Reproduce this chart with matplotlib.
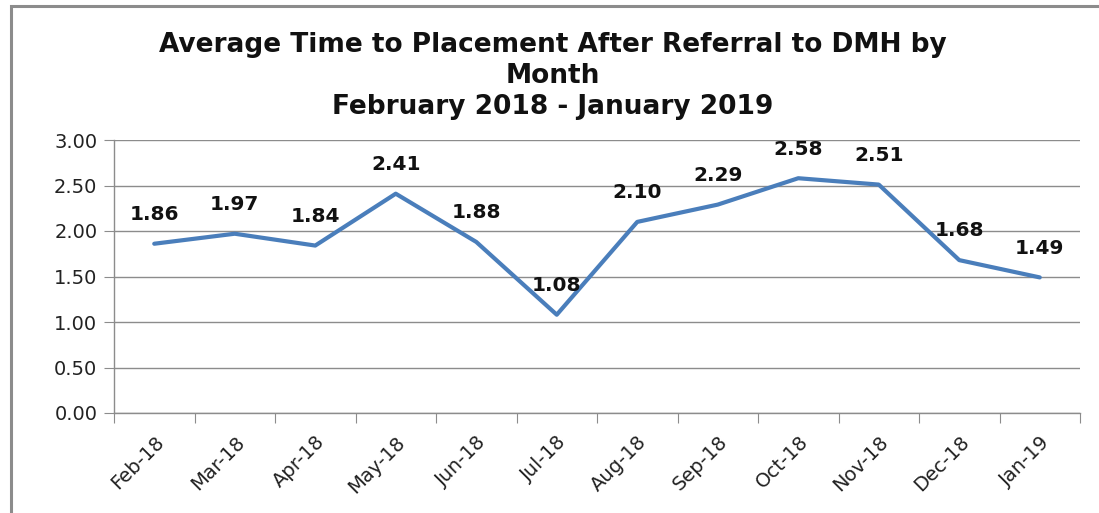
import matplotlib
matplotlib.use("Agg")
import matplotlib.pyplot as plt
from matplotlib.patches import Rectangle
from matplotlib.ticker import FixedLocator, NullFormatter

months = ["Feb-18", "Mar-18", "Apr-18", "May-18", "Jun-18", "Jul-18",
          "Aug-18", "Sep-18", "Oct-18", "Nov-18", "Dec-18", "Jan-19"]
values = [1.86, 1.97, 1.84, 2.41, 1.88, 1.08, 2.10, 2.29, 2.58, 2.51, 1.68, 1.49]
y_ticks = [0.0, 0.5, 1.0, 1.5, 2.0, 2.5, 3.0]
title = "Average Time to Placement After Referral to DMH by\nMonth\nFebruary 2018 - January 2019"

W, H = 1099, 513
fig = plt.figure(figsize=(W / 100, H / 100), dpi=100)
fig.patch.set_facecolor("white")

# outer chart frame
fig.patches.append(Rectangle((11 / W, -0.1), 1.2, 1 - 6 / H + 0.1,
                             transform=fig.transFigure, fill=False,
                             edgecolor="#8c8c8c", linewidth=2.2, zorder=0))

ax = fig.add_axes([114 / W, 1 - 413 / H, (1080 - 114) / W, (413 - 140) / H])
x = list(range(len(months)))
ax.plot(x, values, color="#4a7ebb", linewidth=3.0, solid_capstyle="round",
        solid_joinstyle="round", zorder=3)

for xi, v in zip(x, values):
    ax.annotate(f"{v:.2f}", (xi, v), xytext=(0, 21), textcoords="offset points",
                ha="center", va="center", fontsize=14.5, fontweight="bold",
                color="#111111", zorder=4)

ax.set_xlim(-0.5, len(months) - 0.5)
ax.set_ylim(0, 3.0)
ax.set_yticks(y_ticks)
ax.set_yticklabels([f"{t:.2f}" for t in y_ticks], fontsize=14, color="#222222")
ax.yaxis.grid(True, color="#8c8c8c", linewidth=1.0)
ax.set_axisbelow(True)

ax.xaxis.set_major_locator(FixedLocator([i - 0.5 for i in range(len(months) + 1)]))
ax.xaxis.set_major_formatter(NullFormatter())
ax.xaxis.set_minor_locator(FixedLocator(x))
ax.set_xticklabels(months, minor=True, rotation=45, ha="right",
                   rotation_mode="anchor", fontsize=14, color="#222222")
ax.tick_params(axis="x", which="minor", length=0, pad=14)
ax.tick_params(axis="x", which="major", length=7, color="#8c8c8c", direction="out")
ax.tick_params(axis="y", length=7, color="#8c8c8c", direction="out", pad=5)

for s in ["top", "right"]:
    ax.spines[s].set_visible(False)
for s in ["left", "bottom"]:
    ax.spines[s].set_color("#8c8c8c")
    ax.spines[s].set_linewidth(1.0)

fig.text(553 / W, 1 - 76 / H, title, ha="center", va="center", fontsize=19,
         fontweight="bold", color="#111111", linespacing=1.26)

fig.savefig("out.png", dpi=100)
